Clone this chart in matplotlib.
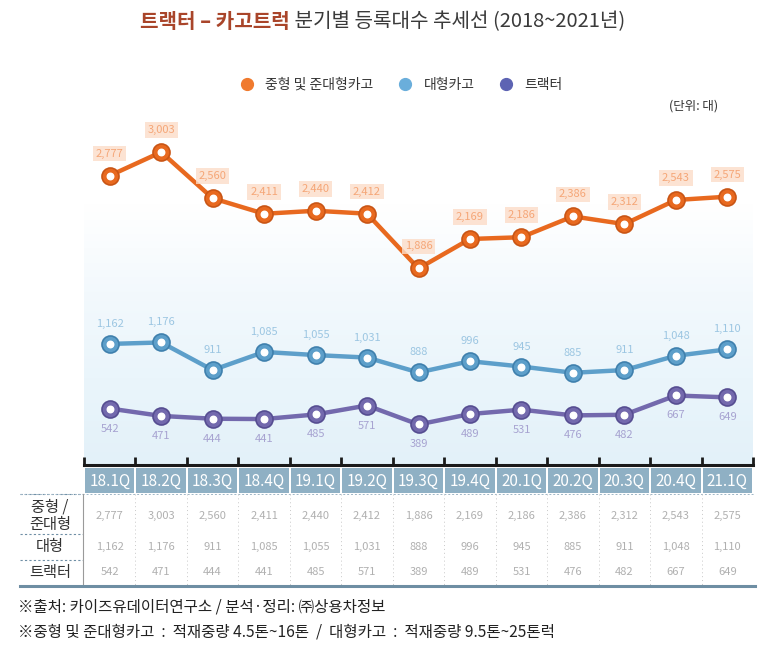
import numpy as np
import matplotlib
matplotlib.use("Agg")
import matplotlib.pyplot as plt
from matplotlib.lines import Line2D
from matplotlib.patches import Rectangle
from matplotlib.colors import LinearSegmentedColormap
import matplotlib.transforms as mtransforms

plt.rcParams['font.family'] = ['Noto Sans CJK KR', 'DejaVu Sans']

quarters = ['18.1Q', '18.2Q', '18.3Q', '18.4Q', '19.1Q', '19.2Q', '19.3Q',
            '19.4Q', '20.1Q', '20.2Q', '20.3Q', '20.4Q', '21.1Q']
medium = [2777, 3003, 2560, 2411, 2440, 2412, 1886, 2169, 2186, 2386, 2312, 2543, 2575]
large = [1162, 1176, 911, 1085, 1055, 1031, 888, 996, 945, 885, 911, 1048, 1110]
tractor = [542, 471, 444, 441, 485, 571, 389, 489, 531, 476, 482, 667, 649]
series_names = ['중형 및 준대형카고', '대형카고', '트랙터']
row_labels = ['중형 /\n준대형', '대형', '트랙터']

W, H = 770, 645
fig = plt.figure(figsize=(W / 100, H / 100), dpi=100)

# overlay axes in pixel coords
ov = fig.add_axes([0, 0, 1, 1])
ov.set_xlim(0, W)
ov.set_ylim(H, 0)
ov.axis('off')

def fx(px):
    return px / W

def fy(py):
    return 1 - py / H

top_px, bot_px, left_px, right_px = 118, 465, 84, 753
ax = fig.add_axes([fx(left_px), fy(bot_px), fx(right_px - left_px), (bot_px - top_px) / H])
x = np.arange(len(quarters))
ymax = (bot_px - top_px) / 0.1042

# gradient background (white at top -> light blue at bottom)
cmap = LinearSegmentedColormap.from_list('bg', ['#ffffff', '#ffffff', '#f3f9fd', '#eaf5fb', '#e3f1f9'])
grad = np.linspace(0, 1, 256).reshape(-1, 1)
ax.imshow(grad, extent=(-0.5, len(quarters) - 0.5 + 0.05, 0, ymax), aspect='auto',
          cmap=cmap, zorder=0, origin='upper')
ax.set_ylim(0, ymax)
ax.set_xlim(-0.5, len(quarters) - 0.5)

for s in ['top', 'right', 'left']:
    ax.spines[s].set_visible(False)
ax.spines['bottom'].set_linewidth(2.2)
ax.spines['bottom'].set_color('#1a1a1a')
ax.set_yticks([])
ax.set_xticks(np.arange(-0.5, len(quarters)), labels=[])
ax.tick_params(axis='x', direction='in', length=6, width=2, color='#1a1a1a')

styles = [
    (medium, '#e8691f', '#c95515', '#f5a677', '#fcdcc8', 22),
    (large, '#5d9fca', '#3f80ad', '#9cc6e2', None, 20),
    (tractor, '#7369ad', '#564d91', '#a7a3d1', None, -20),
]
for vals, col, edge, lcol, box, off in styles:
    ax.plot(x, vals, color=col, lw=3.2, zorder=3, solid_capstyle='round')
    ax.scatter(x, vals, s=150, color=col, edgecolors=edge, linewidths=1.2, zorder=4)
    ax.scatter(x, vals, s=22, color='white', zorder=5)
    for xi, v in zip(x, vals):
        kw = {}
        if box:
            kw['bbox'] = dict(boxstyle='square,pad=0.25', fc=box, ec='none', alpha=0.8)
        ax.annotate(f'{v:,}', (xi, v), xytext=(0, off * 0.72), textcoords='offset points',
                    ha='center', va='center', fontsize=8, color=lcol, zorder=6, **kw)

# title
t1 = ov.text(140, 22, '트랙터 – 카고트럭', fontsize=14.5, color='#a9452a', fontweight='bold',
             ha='left', va='center')
ov.annotate(' 분기별 등록대수 추세선 (2018~2021년)', xy=(1, 0.5), xycoords=t1,
            ha='left', va='center', fontsize=14.5, color='#3a3a3a')

# legend
handles = [Line2D([], [], marker='o', ls='none', ms=8.5, color=c)
           for c in ['#f07a2e', '#6aaedb', '#5d63b3']]
fig.legend(handles, series_names, loc='center', bbox_to_anchor=(fx(398), fy(85)), ncol=3,
           frameon=False, fontsize=10, handletextpad=0.3, columnspacing=1.3,
           labelcolor='#333333')

ov.text(718, 106, '(단위: 대)', fontsize=9, color='#333333', ha='right', va='center')

# header cells and table
bt = mtransforms.blended_transform_factory(ax.transData, ov.transData)
for i, q in enumerate(quarters):
    ov.add_patch(Rectangle((i - 0.48, 468), 0.96, 25, transform=bt, fc='#8fb0c4', ec='none'))
    ov.text(i, 481, q, transform=bt, ha='center', va='center', fontsize=11,
            color='white')

row_y = [516, 547, 572]
for ry, lab in zip(row_y, row_labels):
    ov.text(50, ry, lab, ha='center', va='center', fontsize=11, color='#333333',
            linespacing=1.0)
for vals, ry in zip([medium, large, tractor], row_y):
    for i, v in enumerate(vals):
        ov.text(i, ry, f'{v:,}', transform=bt, ha='center', va='center', fontsize=8,
                color='#b0b0b0')

for yy in [494, 534, 560]:
    ov.plot([20, 83], [yy, yy], ls=(0, (2, 2)), color='#6f8fa5', lw=0.8)
ov.plot([20, 755], [494, 494], ls=(0, (2, 2)), color='#9fb6c6', lw=0.7)
ov.plot([83, 83], [494, 585], color='#9a9a9a', lw=0.8)
for i in range(1, len(quarters)):
    ov.plot([i - 0.5, i - 0.5], [494, 585], transform=bt, ls=(0, (1, 3)),
            color='#c8c8c8', lw=0.7)
ov.plot([20, 755], [586, 586], color='#6e8ea3', lw=2.2)

# footnotes
ov.text(18, 607, '※출처: 카이즈유데이터연구소 / 분석·정리: ㈜상용차정보', fontsize=11.2,
        color='#222222', ha='left', va='center')
ov.text(18, 632, '※중형 및 준대형카고  :  적재중량 4.5톤~16톤  /  대형카고  :  적재중량 9.5톤~25톤럭',
        fontsize=11.2, color='#222222', ha='left', va='center')

fig.savefig('out.png', dpi=100)
